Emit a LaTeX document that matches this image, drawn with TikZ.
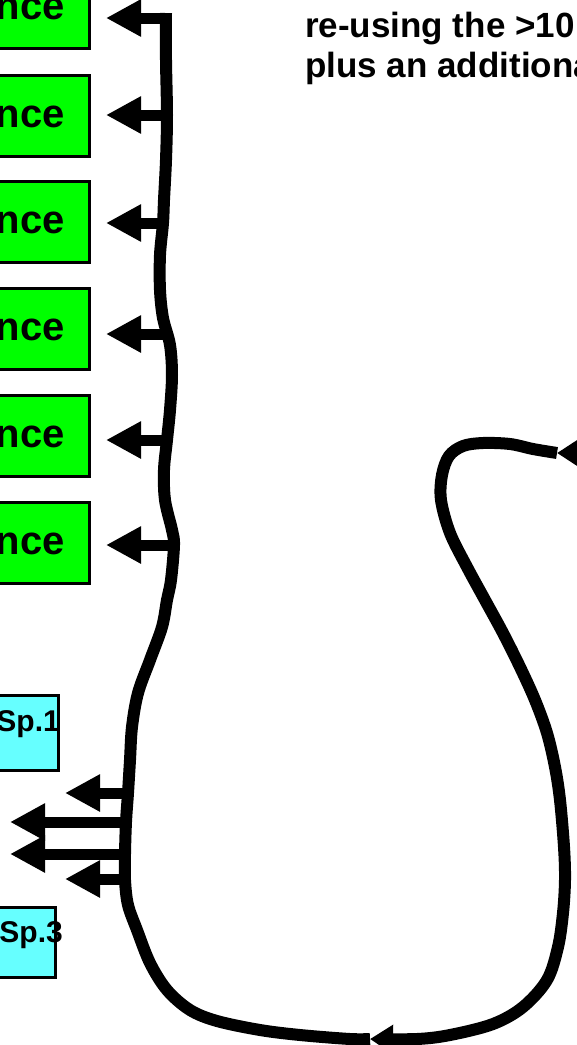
\documentclass[tikz,border=0pt]{standalone}
\usepackage{fontspec}
\setmainfont{Liberation Sans}
\usetikzlibrary{arrows.meta}
\definecolor{boxgreen}{RGB}{0,255,0}
\definecolor{boxcyan}{RGB}{102,255,255}
\begin{document}
\begin{tikzpicture}[x=1pt,y=-1pt,
  gbox/.style={draw=black, line width=3pt, fill=boxgreen, minimum width=300pt, minimum height=81pt, anchor=east, inner sep=0pt},
  cbox/.style={draw=black, line width=3pt, fill=boxcyan, minimum width=200pt, anchor=east, inner sep=0pt},
  gtxt/.style={font=\bfseries\fontsize{40}{42}\selectfont, inner sep=0pt, anchor=base east},
  ctxt/.style={font=\bfseries\fontsize{30}{32}\selectfont, inner sep=0pt, anchor=base east},
  ttxt/.style={font=\bfseries\fontsize{35}{37}\selectfont, inner sep=0pt, anchor=base west},
  spineline/.style={line width=12pt, line join=round, line cap=butt},
  arr/.style={line width=11pt, -{Triangle[length=35pt,width=35pt]}},
  midarr/.style={line width=12pt, line join=round, -{Triangle[length=23pt,width=28pt]}}
]
\useasboundingbox (0,0) rectangle (577,1045);
\clip (0,0) rectangle (577,1045);

% green boxes
\node[gbox] (g1) at (91,7.5) {};
\node[gbox] (g2) at (91,116) {};
\node[gbox] (g3) at (91,222) {};
\node[gbox] (g4) at (91,329) {};
\node[gbox] (g5) at (91,436) {};
\node[gbox] (g6) at (91,543) {};
\node[gtxt] (t1) at (65,19) {nce};
\node[gtxt] (t2) at (65,127) {nce};
\node[gtxt] (t3) at (65,233) {nce};
\node[gtxt] (t4) at (65,340) {nce};
\node[gtxt] (t5) at (65,447) {nce};
\node[gtxt] (t6) at (65,554) {nce};

% cyan boxes
\node[cbox, minimum height=75pt] (c1) at (60,732.5) {};
\node[cbox, minimum height=70pt] (c3) at (57,942) {};
\node[ctxt] (ct1) at (60,731) {Sp.1};
\node[ctxt] (ct3) at (63,942) {Sp.3};

% top text
\node[ttxt] (l1) at (305,37) {re-using the >10};
\node[ttxt] (l2) at (305,77) {plus an additional};

% spine coordinates
\coordinate (s1) at (166,18);
\coordinate (s2) at (167,115);
\coordinate (s3) at (163,223);
\coordinate (s4) at (169,334);
\coordinate (s5) at (167,440);
\coordinate (s6) at (174,545);
\coordinate (sa) at (128,793);
\coordinate (sb) at (126,822);
\coordinate (sc) at (125,854);
\coordinate (sd) at (125,879);
\coordinate (bt) at (370,1039);
\coordinate (lt) at (557,453);
\coordinate (rin) at (620,453);
\coordinate (ta) at (65,793);
\coordinate (tb) at (10,822);
\coordinate (tc) at (10,854);
\coordinate (td) at (65,879);

% spine
\draw[spineline] plot[smooth, tension=0.55] coordinates {
 (166,13) (166,60) (167,115) (166,160) (164,200) (163,223) (160,255) (160,290)
 (163,318) (170,345) (172,375) (170,410) (167,440) (164,470) (165,500) (172,530)
 (174,545) (171,580) (167,600) (162,627) (150,660) (138,693) (132,727) (130,760)
 (128,793) (126,822) (125,854) (125,880) (128,905) (137,930) (150,963) (167,990)
 (190,1010) (217,1021) (260,1030) (300,1035) (350,1039) (370,1039)};

% loop with mid arrow
\draw[midarr] plot[smooth, tension=0.55] coordinates {
 (557,453) (533,449) (510,444) (483,443) (463,446) (449,456) (442,475) (441,500)
 (450,533) (467,567) (485,600) (503,633) (520,667) (535,700) (547,733) (555,767)
 (560,800) (564,847) (565,880) (563,913) (558,947) (547,980) (523,1007) (493,1024)
 (450,1035) (417,1039) (370,1039)};
\draw[midarr] (rin) -- (lt);

% arrows to green boxes
\draw[arr, shorten >=15pt] (s1) -- (s1 -| g1.east);
\draw[arr, shorten >=15pt] (s2) -- (s2 -| g2.east);
\draw[arr, shorten >=15pt] (s3) -- (s3 -| g3.east);
\draw[arr, shorten >=15pt] (s4) -- (s4 -| g4.east);
\draw[arr, shorten >=15pt] (s5) -- (s5 -| g5.east);
\draw[arr, shorten >=15pt] (s6) -- (s6 -| g6.east);

% arrows to the left
\draw[arr] (sa) -- (ta);
\draw[arr] (sb) -- (tb);
\draw[arr] (sc) -- (tc);
\draw[arr] (sd) -- (td);
\end{tikzpicture}
\end{document}
